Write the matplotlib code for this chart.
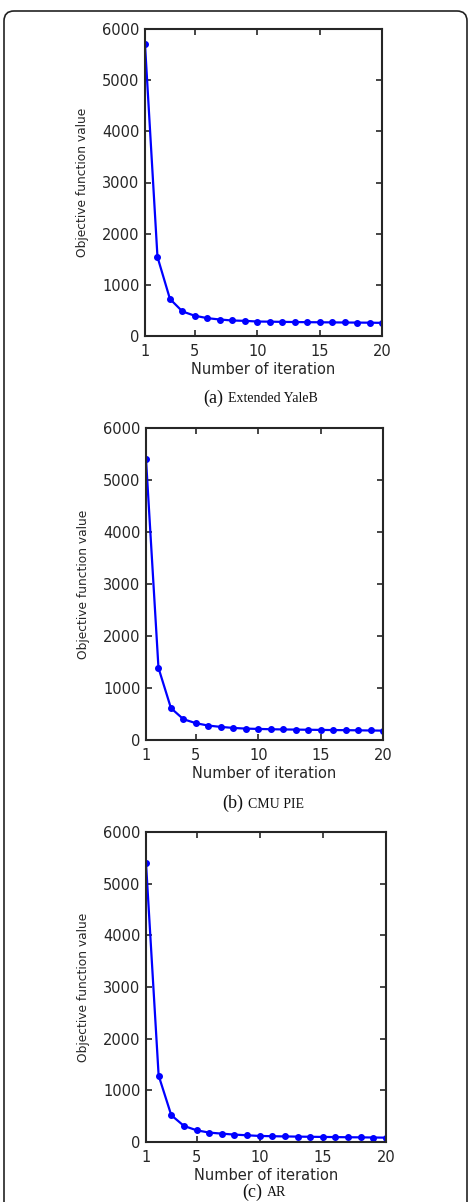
import matplotlib
matplotlib.use("Agg")
import matplotlib.pyplot as plt
from matplotlib.patches import FancyBboxPatch

iterations = list(range(1, 21))
yaleb = [5700, 1545, 724, 480, 395, 349, 322, 303, 296, 283, 280, 276, 273, 270, 268, 266, 264, 262, 260, 257]
cmupie = [5400, 1387, 613, 400, 323, 277, 252, 232, 219, 213, 207, 203, 200, 197, 194, 191, 189, 186, 183, 180]
ar = [5400, 1286, 519, 312, 227, 182, 162, 143, 130, 117, 112, 108, 104, 101, 98, 95, 92, 90, 87, 84]
xticks = [1, 5, 10, 15, 20]
yticks = [0, 1000, 2000, 3000, 4000, 5000, 6000]
datasets = [yaleb, cmupie, ar]
caption_tags = ["(a)", "(b)", "(c)"]
caption_names = ["Extended YaleB", "CMU PIE", "AR"]

W, H = 469, 1202
fig = plt.figure(figsize=(W / 100, H / 100), dpi=100)

# rounded frame
frame = FancyBboxPatch((4 / 100, -0.3), (467 - 4) / 100, (H - 11) / 100 + 0.3,
                       boxstyle="round,pad=0,rounding_size=0.1",
                       transform=fig.dpi_scale_trans, fill=False,
                       edgecolor="#222222", linewidth=1.2, clip_on=False)
fig.patches.append(frame)

# axes boxes in pixels: left, right, top, bottom
boxes = [(145, 382, 29, 336), (146, 383, 428, 740), (146, 386, 832, 1142)]
# caption positions: (x split, y center)
caps = [(223, 398), (243, 803), (262, 1192)]

txt = "#262626"
for data, (l, r, t, b), tag, name, (cx, cy) in zip(datasets, boxes, caption_tags, caption_names, caps):
    ax = fig.add_axes([l / W, 1 - b / H, (r - l) / W, (b - t) / H])
    ax.plot(iterations, data, color="#0000ff", linewidth=1.6, marker="o",
            markersize=4, markerfacecolor="#0000ff", markeredgecolor="#0000ff")
    ax.set_xlim(1, 20)
    ax.set_ylim(0, 6000)
    ax.set_xticks(xticks)
    ax.set_yticks(yticks)
    ax.tick_params(direction="in", top=True, right=True, length=4, width=1.2,
                   colors=txt, labelsize=10.5)
    ax.tick_params(axis="x", pad=6)
    ax.tick_params(axis="y", pad=4)
    for lab in ax.get_xticklabels() + ax.get_yticklabels():
        lab.set_fontfamily("DejaVu Sans")
    for s in ax.spines.values():
        s.set_linewidth(1.5)
        s.set_color(txt)
    ax.set_xlabel("Number of iteration", fontsize=10.5, color=txt, labelpad=2,
                  family="DejaVu Sans")
    ax.set_ylabel("Objective function value", fontsize=8.8, color=txt, labelpad=9,
                  family="DejaVu Sans")
    fig.text(cx / W, 1 - cy / H, tag, ha="right", va="center", fontsize=13,
             family="Liberation Serif", color="#111111")
    fig.text((cx + 5) / W, 1 - (cy + 1) / H, name, ha="left", va="center", fontsize=10,
             family="Liberation Serif", color="#111111")

fig.savefig("out.png", dpi=100)
